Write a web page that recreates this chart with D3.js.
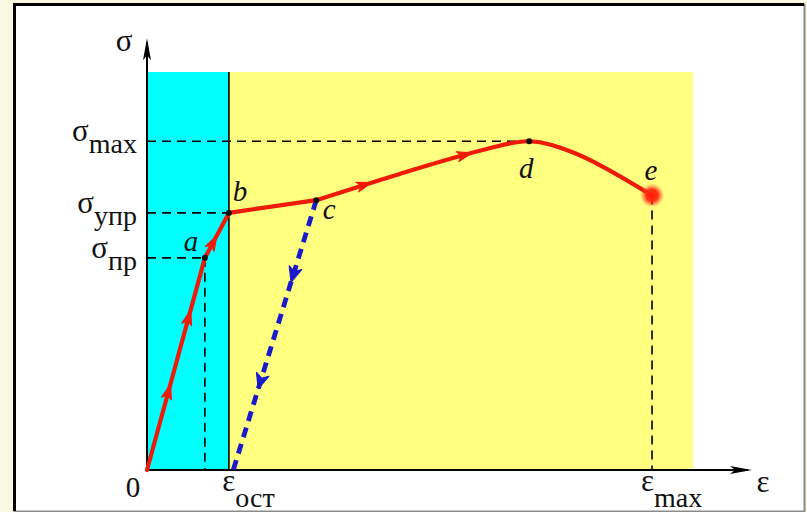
<!DOCTYPE html>
<html>
<head>
<meta charset="utf-8">
<script src="https://cdn.jsdelivr.net/npm/d3@7"></script>
<style>
  html, body { margin: 0; padding: 0; background: #f9f9e3; }
  svg { display: block; }
</style>
</head>
<body>
<svg id="chart" width="807" height="512"></svg>
<script>
// Stress–strain diagram of a ductile material (ε in %, σ in % of axis height)
const pointNames = ["0", "a", "b", "c", "d", "e"];
const strain     = [0, 10.6, 15.0, 31.0, 70.0, 92.5];
const stress     = [0, 53.3, 64.6, 67.8, 82.6, 69.0];

// intermediate samples of the smooth hardening / necking branch c → d → e
const smoothStrain = [31.0, 46.3, 61.0, 70.0, 78.4, 92.5];
const smoothStress = [67.8, 74.4, 80.2, 82.6, 79.6, 69.0];

// unloading from c back to residual strain
const residualStrain = 15.8;

// direction arrows: on loading curve by strain, on unloading line by stress
const loadArrowStrain   = [4.2, 7.9, 12.6, 40.8, 59.2];
const unloadArrowStress = [47.7, 20.9];

// axis labels
const stressTicks = [
  { main: "σ", sub: "max", point: "d" },
  { main: "σ", sub: "упр", point: "b" },
  { main: "σ", sub: "пр",  point: "a" }
];
const strainTicks = [
  { main: "ε", sub: "ост", value: residualStrain },
  { main: "ε", sub: "max", point: "e" }
];

const axisMax = { strain: 110.8, stress: 108.5 };

const svg = d3.select("#chart");
const x = d3.scaleLinear().domain([0, 100]).range([147, 693]);
const y = d3.scaleLinear().domain([0, 100]).range([470, 72]);
const P = {};
pointNames.forEach((n, i) => P[n] = { e: strain[i], s: stress[i] });

const serif = "'Liberation Serif', 'DejaVu Serif', serif";

// framed panel
svg.append("rect").attr("x", 14.5).attr("y", 4.5).attr("width", 790).attr("height", 507)
  .attr("fill", "#ffffff").attr("stroke", "#8a8a8a").attr("stroke-width", 2);
svg.append("path").attr("d", "M14.5,511 L14.5,4.5 L804,4.5")
  .attr("fill", "none").attr("stroke", "#000").attr("stroke-width", 3);

const defs = svg.append("defs");
const glow = defs.append("radialGradient").attr("id", "glow");
glow.append("stop").attr("offset", "0%").attr("stop-color", "#ff1a00").attr("stop-opacity", 1);
glow.append("stop").attr("offset", "50%").attr("stop-color", "#ff2a10").attr("stop-opacity", 0.95);
glow.append("stop").attr("offset", "100%").attr("stop-color", "#ff6040").attr("stop-opacity", 0);

// elastic zone (cyan) and plastic zone (yellow)
svg.append("rect")
  .attr("x", x(0)).attr("y", y(100))
  .attr("width", x(P.b.e) - x(0)).attr("height", y(0) - y(100))
  .attr("fill", "#00ffff");
svg.append("rect")
  .attr("x", x(P.b.e)).attr("y", y(100))
  .attr("width", x(100) - x(P.b.e)).attr("height", y(0) - y(100))
  .attr("fill", "#ffff80");
svg.append("line")
  .attr("x1", x(P.b.e)).attr("x2", x(P.b.e)).attr("y1", y(100)).attr("y2", y(0))
  .attr("stroke", "#000").attr("stroke-width", 1.6);

// dashed guide lines
const dash = "9,6";
const guides = [
  [[0, P.d.s], [P.d.e, P.d.s]],
  [[0, P.b.s], [P.b.e, P.b.s]],
  [[0, P.a.s], [P.a.e, P.a.s]],
  [[P.a.e, P.a.s], [P.a.e, 0]],
  [[P.e.e, P.e.s], [P.e.e, 0]]
];
svg.selectAll("line.guide").data(guides).join("line")
  .attr("class", "guide")
  .attr("x1", d => x(d[0][0])).attr("y1", d => y(d[0][1]))
  .attr("x2", d => x(d[1][0])).attr("y2", d => y(d[1][1]))
  .attr("stroke", "#000").attr("stroke-width", 1.6).attr("stroke-dasharray", dash);

// axes with arrows
svg.append("line").attr("x1", x(0)).attr("y1", y(0)).attr("x2", x(axisMax.strain) - 4).attr("y2", y(0))
  .attr("stroke", "#000").attr("stroke-width", 2);
svg.append("line").attr("x1", x(0)).attr("y1", y(0)).attr("x2", x(0)).attr("y2", y(axisMax.stress) + 4)
  .attr("stroke", "#000").attr("stroke-width", 2);
const xt = x(axisMax.strain), yt = y(axisMax.stress);
svg.append("path").attr("d", `M${xt},${y(0)} L${xt - 22},${y(0) - 4} L${xt - 17},${y(0)} L${xt - 22},${y(0) + 4} Z`)
  .attr("fill", "#000");
svg.append("path").attr("d", `M${x(0)},${yt} L${x(0) - 4},${yt + 22} L${x(0)},${yt + 17} L${x(0) + 4},${yt + 22} Z`)
  .attr("fill", "#000");

// unloading line c → residual strain
const unload = [[P.c.e, P.c.s], [residualStrain, 0]];
svg.append("line")
  .attr("x1", x(unload[0][0])).attr("y1", y(unload[0][1]))
  .attr("x2", x(unload[1][0])).attr("y2", y(unload[1][1]))
  .attr("stroke", "#1a1acc").attr("stroke-width", 4.8).attr("stroke-dasharray", "10,7");

// loading curve: straight up to c, smooth afterwards
const red = "#ee1a0a";
const straightPart = ["0", "a", "b", "c"].map(n => [P[n].e, P[n].s]);
const smoothPart = smoothStrain.map((v, i) => [v, smoothStress[i]]);
const lineLin = d3.line().x(d => x(d[0])).y(d => y(d[1]));
const lineSmooth = d3.line().x(d => x(d[0])).y(d => y(d[1])).curve(d3.curveCatmullRom.alpha(0.5));
const redPath = svg.append("path").attr("d", lineLin(straightPart) + "M" + lineSmooth(smoothPart).slice(1))
  .attr("fill", "none").attr("stroke", red).attr("stroke-width", 4.2)
  .attr("stroke-linejoin", "round").attr("stroke-linecap", "round");

// arrowheads along the loading curve (found by strain on the path)
const node = redPath.node();
const total = node.getTotalLength();
function pointAtStrain(v) {
  let lo = 0, hi = total, target = x(v);
  for (let k = 0; k < 40; k++) {
    const mid = (lo + hi) / 2;
    if (node.getPointAtLength(mid).x < target) lo = mid; else hi = mid;
  }
  return lo;
}
function arrowHead(px, py, ang, color, w) {
  svg.append("path")
    .attr("d", `M2,0 L-13,-${w} L-9,0 L-13,${w} Z`)
    .attr("transform", `translate(${px},${py}) rotate(${ang * 180 / Math.PI})`)
    .attr("fill", color).attr("stroke", color).attr("stroke-width", 1.2).attr("stroke-linejoin", "round");
}
loadArrowStrain.forEach(v => {
  const L = pointAtStrain(v);
  const p0 = node.getPointAtLength(Math.max(0, L - 3));
  const p1 = node.getPointAtLength(Math.min(total, L + 3));
  const p = node.getPointAtLength(L);
  arrowHead(p.x, p.y, Math.atan2(p1.y - p0.y, p1.x - p0.x), red, 5);
});
unloadArrowStress.forEach(s => {
  const t = (unload[0][1] - s) / (unload[0][1] - unload[1][1]);
  const ev = unload[0][0] + t * (unload[1][0] - unload[0][0]);
  const ang = Math.atan2(y(unload[1][1]) - y(unload[0][1]), x(unload[1][0]) - x(unload[0][0]));
  arrowHead(x(ev), y(s), ang, "#1a1acc", 6.5);
});

// glowing end point e (fracture)
svg.append("circle").attr("cx", x(P.e.e)).attr("cy", y(P.e.s)).attr("r", 12).attr("fill", "url(#glow)");

// marked points
svg.selectAll("circle.pt").data(["a", "b", "c", "d"]).join("circle")
  .attr("class", "pt")
  .attr("cx", d => x(P[d].e)).attr("cy", d => y(P[d].s)).attr("r", 3).attr("fill", "#111");

// point letters
const letterOffset = { a: [-14, -14], b: [11, -19], c: [13, 12], d: [-3, 30], e: [-1, -22] };
svg.selectAll("text.pname").data(["a", "b", "c", "d", "e"]).join("text")
  .attr("class", "pname")
  .attr("x", d => x(P[d].e) + letterOffset[d][0])
  .attr("y", d => y(P[d].s) + letterOffset[d][1])
  .attr("text-anchor", "middle").attr("dominant-baseline", "middle")
  .attr("font-family", serif).attr("font-style", "italic").attr("font-size", 29)
  .attr("fill", "#111")
  .text(d => d);

// stress labels on the left
stressTicks.forEach(t => {
  const yy = y(P[t.point].s);
  const g = svg.append("text").attr("font-family", serif).attr("fill", "#111")
    .attr("text-anchor", "end").attr("x", 137).attr("y", yy + 9);
  g.append("tspan").attr("font-size", 31).attr("dy", -9).text(t.main);
  g.append("tspan").attr("font-size", 28).attr("dy", 12).text(t.sub);
});

// strain labels below the axis
strainTicks.forEach(t => {
  const xv = t.point ? P[t.point].e : t.value;
  const g = svg.append("text").attr("font-family", serif).attr("fill", "#111")
    .attr("x", x(xv) - 11).attr("y", 491);
  g.append("tspan").attr("font-size", 31).text(t.main);
  g.append("tspan").attr("font-size", 28).attr("dy", 16).text(t.sub);
});

// origin and axis names
svg.append("text").attr("x", x(0) - 14).attr("y", 497).attr("text-anchor", "middle")
  .attr("font-family", serif).attr("font-size", 29).attr("fill", "#111").text("0");
svg.append("text").attr("x", 124).attr("y", 51).attr("text-anchor", "middle")
  .attr("font-family", serif).attr("font-size", 31).attr("fill", "#111").text("σ");
svg.append("text").attr("x", 763).attr("y", 492).attr("text-anchor", "middle")
  .attr("font-family", serif).attr("font-size", 31).attr("fill", "#111").text("ε");
</script>
</body>
</html>
